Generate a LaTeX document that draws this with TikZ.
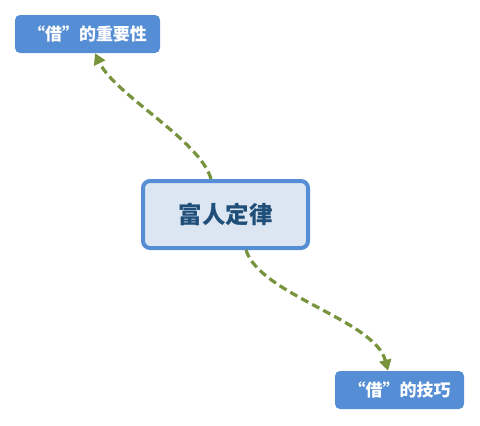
\documentclass[tikz,border=0pt]{standalone}
\usepackage{fontspec}
\newfontfamily\cjk{Noto Sans CJK SC}
\usetikzlibrary{arrows.meta}
\definecolor{boxblue}{HTML}{558ED5}
\definecolor{palefill}{HTML}{DCE6F2}
\definecolor{darktext}{HTML}{1F4E79}
\definecolor{olive}{HTML}{77933C}
\begin{document}
\begin{tikzpicture}[x=1pt, y=-1pt, >={Triangle[length=11pt,width=12pt]},
  leaf/.style={fill=boxblue, rounded corners=5pt, inner sep=0pt,
    minimum height=38pt, text=white, font=\cjk\bfseries\fontsize{17pt}{20pt}\selectfont},
  root/.style={draw=boxblue, fill=palefill, line width=4pt, rounded corners=7pt,
    minimum width=165pt, minimum height=67pt, inner sep=0pt,
    text=darktext, font=\cjk\bfseries\fontsize{23.5pt}{28pt}\selectfont},
  link/.style={->, olive, line width=3.2pt, dash pattern=on 8pt off 4.5pt}]
 \useasboundingbox (0,0) rectangle (480,426);
 \node[root] (law) at (225.5,214.5) {富人定律};
 \node[leaf, minimum width=145pt] (why) at (87.5,34) {“借”的重要性};
 \node[leaf, minimum width=129pt] (how) at (399.5,390) {“借”的技巧};
 \draw[link]([xshift=-14.5pt]law.north) .. controls (200,140) and (115,95) .. ([xshift=7.5pt]why.south);
 \draw[link]([xshift=20.5pt]law.south) .. controls (260,295) and (375,320) .. ([xshift=-11.5pt]how.north);
\end{tikzpicture}
\end{document}
